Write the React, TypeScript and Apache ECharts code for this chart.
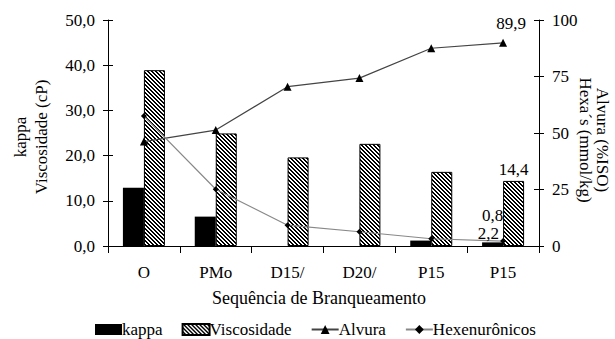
import React, { useEffect, useRef } from "react";
import * as echarts from "echarts";

const categories = ["O", "PMo", "D15/", "D20/", "P15", "P15"];
const kappa: (number | null)[] = [12.9, 6.5, null, null, 1.2, 0.8];
const viscosidade = [38.9, 24.9, 19.6, 22.6, 16.4, 14.4];
const alvura = [46.2, 51.3, 70.5, 74.3, 87.5, 89.9];
const hexa = [57.5, 25.1, 9.2, 6.3, 3.2, 2.2];
const seriesNames = ["kappa", "Viscosidade", "Alvura", "Hexenurônicos"];
const leftAxisTitle = ["kappa", "Viscosidade (cP)"];
const rightAxisTitle = ["Alvura (%ISO)", "Hexa´s (mmol/kg)"];
const xAxisTitle = "Sequência de Branqueamento";

const FONT = "Liberation Serif";
const fmt = (v: number) => v.toFixed(1).replace(".", ",");

function makeHatch() {
  const c = document.createElement("canvas");
  c.width = 4;
  c.height = 4;
  const ctx = c.getContext("2d")!;
  ctx.fillStyle = "#fff";
  ctx.fillRect(0, 0, 4, 4);
  ctx.fillStyle = "#000";
  for (let i = 0; i < 4; i++) {
    ctx.fillRect(i, i, 1, 1);
    ctx.fillRect((i + 1) % 4, i, 1, 1);
  }
  return c;
}

export default function App() {
  const ref = useRef<HTMLDivElement>(null);
  useEffect(() => {
    if (!ref.current) return;
    const chart = echarts.init(ref.current, null, { renderer: "svg" });
    const hatch = { image: makeHatch(), repeat: "repeat" } as any;
    const lastIdx = categories.length - 1;
    const labelStyle = { fontFamily: FONT, fontSize: 17, color: "#000" };
    const withLast = (arr: (number | null)[], label: any) =>
      arr.map((v, i) =>
        i === lastIdx && v != null
          ? { value: v, label: { show: true, ...labelStyle, formatter: (p: any) => fmt(p.value), ...label } }
          : v
      );
    const baseY = {
      type: "value",
      splitLine: { show: false },
      axisLine: { show: true, lineStyle: { color: "#000", width: 1 } },
      axisTick: { show: true, length: 5, lineStyle: { color: "#000" } },
    };
    const titleStyle = (text: string, size = 17) => ({
      text,
      fontFamily: FONT,
      fontSize: size,
      fill: "#000",
      textAlign: "center",
      textVerticalAlign: "middle",
    });
    chart.setOption({
      animation: false,
      textStyle: { fontFamily: FONT },
      grid: { left: 108, right: 76, top: 20, bottom: 93, containLabel: false },
      legend: {
        left: 90,
        top: 316,
        itemWidth: 27,
        itemHeight: 11,
        itemGap: 19,
        textStyle: { fontFamily: FONT, fontSize: 17, color: "#000", padding: [0, 0, 0, -5] },
        data: [
          { name: seriesNames[0], icon: "rect" },
          { name: seriesNames[1], icon: "rect" },
          seriesNames[2],
          seriesNames[3],
        ],
      },
      xAxis: {
        type: "category",
        data: categories,
        axisLine: { lineStyle: { color: "#000", width: 1 } },
        axisTick: { show: true, length: 7, interval: 0, lineStyle: { color: "#000" } },
        axisLabel: { fontFamily: FONT, fontSize: 17, color: "#000", margin: 18, interval: 0 },
      },
      yAxis: [
        {
          ...baseY,
          min: 0,
          max: 50,
          interval: 10,
          position: "left",
          axisLabel: { fontFamily: FONT, fontSize: 17, color: "#000", margin: 13, formatter: (v: number) => fmt(v) },
        },
        {
          ...baseY,
          min: 0,
          max: 100,
          interval: 25,
          position: "right",
          axisLabel: { fontFamily: FONT, fontSize: 17, color: "#000", margin: 13 },
        },
        {
          ...baseY,
          min: 0,
          max: 50,
          interval: 10,
          position: "left",
          axisLine: { show: false },
          axisTick: { show: true, inside: true, length: 5, lineStyle: { color: "#000" } },
          axisLabel: { show: false },
        },
        {
          ...baseY,
          min: 0,
          max: 100,
          interval: 25,
          position: "right",
          axisLine: { show: false },
          axisTick: { show: true, inside: true, length: 5, lineStyle: { color: "#000" } },
          axisLabel: { show: false },
        },
      ],
      series: [
        {
          name: seriesNames[0],
          type: "bar",
          yAxisIndex: 0,
          barWidth: 21,
          barGap: "0%",
          itemStyle: { color: "#000" },
          data: withLast(kappa, { position: "top", offset: [0, -13] }),
        },
        {
          name: seriesNames[1],
          type: "bar",
          yAxisIndex: 0,
          barWidth: 21,
          barGap: "0%",
          itemStyle: { color: hatch, borderColor: "#000", borderWidth: 1 },
          data: withLast(viscosidade, { position: "top", distance: 3 }),
        },
        {
          name: seriesNames[2],
          type: "line",
          yAxisIndex: 1,
          symbol: "triangle",
          symbolSize: 8,
          lineStyle: { color: "#444", width: 1.2 },
          itemStyle: { color: "#000" },
          z: 5,
          data: withLast(alvura, { position: "top", offset: [8, -2] }),
        },
        {
          name: seriesNames[3],
          type: "line",
          yAxisIndex: 1,
          symbol: "diamond",
          symbolSize: 6,
          lineStyle: { color: "#888", width: 1.2 },
          itemStyle: { color: "#000" },
          z: 5,
          data: withLast(hexa, { position: "left", offset: [4, -8] }),
        },
      ],
      graphic: [
        { type: "text", x: 20, y: 137, rotation: Math.PI / 2, style: titleStyle(leftAxisTitle[0]) },
        { type: "text", x: 41, y: 137, rotation: Math.PI / 2, style: titleStyle(leftAxisTitle[1]) },
        { type: "text", x: 602, y: 140, rotation: -Math.PI / 2, style: titleStyle(rightAxisTitle[0]) },
        { type: "text", x: 585, y: 140, rotation: -Math.PI / 2, style: titleStyle(rightAxisTitle[1]) },
        { type: "text", x: 319, y: 298, style: titleStyle(xAxisTitle, 18) },
      ],
    } as any);
    return () => chart.dispose();
  }, []);
  return <div ref={ref} style={{ position: "absolute", left: 0, top: 0, width: 615, height: 339 }} />;
}
